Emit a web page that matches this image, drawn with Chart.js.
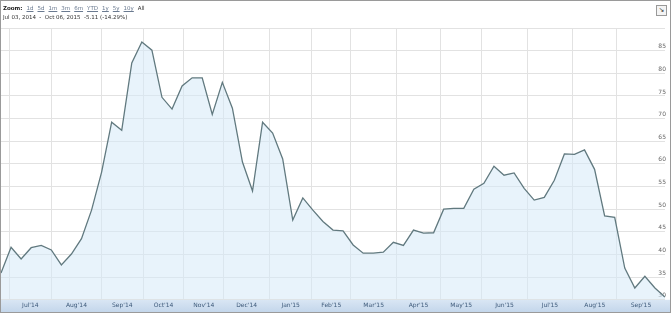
<!DOCTYPE html>
<html>
<head>
<meta charset="utf-8">
<script src="https://cdn.jsdelivr.net/npm/chart.js@4/dist/chart.umd.min.js"></script>
<style>
    body { margin: 0; background: #fff; }
    #wrap { position: relative; width: 671px; height: 313px; overflow: hidden; }
    #kop { position: absolute; left: 3px; top: 4px; font-family: "DejaVu Sans", sans-serif; font-size: 5.5px; color: #333; line-height: 9px; }
    #kop b { color: #222; margin-right: 4px; }
    #kop u { color: #6a7a90; margin-right: 4px; }
    #icoon { position: absolute; left: 656px; top: 5px; width: 9px; height: 9px; border: 1px solid #999; font: 7px "DejaVu Sans", sans-serif; line-height: 9px; text-align: center; color: #333; background: #f4f4f4; }
</style>
</head>
<body>
<div id="wrap">
    <canvas id="koersGrafiek" width="671" height="313"></canvas>
    <div id="kop">
        <div><b>Zoom:</b><u>1d</u><u>5d</u><u>1m</u><u>3m</u><u>6m</u><u>YTD</u><u>1y</u><u>5y</u><u>10y</u>All</div>
        <div>Jul 03, 2014 &nbsp;- &nbsp;Oct 06, 2015 &nbsp;-5.11 (-14.29%)</div>
    </div>
    <div id="icoon">↘</div>
</div>
<script>
// weekly closing prices, Jul 2014 - Oct 2015
const koersen = [
    35.9, 41.6, 39.0, 41.5, 42.0, 41.0, 37.7, 40.1, 43.5, 49.8,
    58.2, 69.2, 67.4, 82.3, 86.9, 85.1, 74.7, 72.1, 77.2, 79.0,
    79.0, 70.9, 78.0, 72.3, 60.4, 54.0, 69.2, 66.8, 61.1, 47.6,
    52.5, 49.8, 47.3, 45.4, 45.2, 42.1, 40.3, 40.3, 40.5, 42.7,
    42.0, 45.4, 44.7, 44.8, 50.0, 50.2, 50.2, 54.4, 55.7, 59.5,
    57.5, 58.0, 54.6, 52.0, 52.6, 56.4, 62.2, 62.1, 63.1, 58.8,
    48.5, 48.2, 37.0, 32.6, 35.2, 32.6, 30.6
];

// month boundaries in week units, as placed on the axis
const maandGrenzen = [0.82, 5.02, 9.98, 14.14, 18.17, 22.15, 26.69, 30.89, 34.76, 39.32, 43.68, 47.80, 52.30, 56.82, 61.22];
const maandLabels = ["Jul'14", "Aug'14", "Sep'14", "Oct'14", "Nov'14", "Dec'14", "Jan'15",
    "Feb'15", "Mar'15", "Apr'15", "May'15", "Jun'15", "Jul'15", "Aug'15", "Sep'15"];

const laatsteWeek = koersen.length - 1;

const labelPerPositie = new Map();
maandLabels.forEach((l, i) => {
    const eind = i + 1 < maandGrenzen.length ? maandGrenzen[i + 1] : laatsteWeek;
    labelPerPositie.set(+((maandGrenzen[i] + eind) / 2).toFixed(3), l);
});

const achtergrond = {
    id: "achtergrond",
    beforeDraw(chart) {
        const { ctx, chartArea, width, height } = chart;
        ctx.save();
        const g = ctx.createLinearGradient(0, chartArea.bottom, 0, height);
        g.addColorStop(0, "#d9e6f4");
        g.addColorStop(1, "#c2d5ea");
        ctx.fillStyle = g;
        ctx.fillRect(0, chartArea.bottom, width, height - chartArea.bottom);
        ctx.restore();
    },
    afterDraw(chart) {
        const { ctx, width, height } = chart;
        ctx.save();
        ctx.strokeStyle = "#9a9a9a";
        ctx.lineWidth = 1;
        ctx.strokeRect(0.5, 0.5, width - 1, height - 1);
        ctx.restore();
    }
};

new Chart(document.getElementById("koersGrafiek"), {
    type: "line",
    data: {
        datasets: [{
            data: koersen.map((k, i) => ({ x: i, y: k })),
            borderColor: "#61797f",
            borderWidth: 1.3,
            backgroundColor: "rgba(214, 234, 248, 0.55)",
            fill: "start",
            tension: 0,
            pointRadius: 0,
        }]
    },
    options: {
        responsive: false,
        animation: false,
        devicePixelRatio: 1,
        layout: { padding: { top: 28, left: 1, right: 4, bottom: 2 } },
        plugins: {
            legend: { display: false },
            tooltip: { enabled: false },
        },
        scales: {
            x: {
                type: "linear",
                min: 0,
                max: laatsteWeek,
                afterBuildTicks: (as) => {
                    const t = maandGrenzen.map(v => ({ value: v }));
                    labelPerPositie.forEach((l, v) => t.push({ value: v }));
                    t.sort((a, b) => a.value - b.value);
                    as.ticks = t;
                },
                grid: {
                    color: (c) => c.tick && labelPerPositie.has(+c.tick.value.toFixed(3)) ? "rgba(0,0,0,0)" : "#e2e2e2",
                    drawTicks: false,
                },
                border: { display: false },
                ticks: {
                    autoSkip: false,
                    maxRotation: 0,
                    padding: 2,
                    color: "#3e5a7a",
                    font: { family: "DejaVu Sans", size: 6 },
                    callback: (v) => labelPerPositie.get(+Number(v).toFixed(3)) || "",
                },
            },
            y: {
                position: "right",
                min: 30,
                max: 90,
                grid: { color: "#e2e2e2", drawTicks: false },
                border: { display: false },
                ticks: {
                    stepSize: 5,
                    mirror: true,
                    padding: 1,
                    labelOffset: -4,
                    color: "#666",
                    font: { family: "DejaVu Sans", size: 6 },
                    callback: (v) => v === 90 ? "" : v,
                },
            },
        },
    },
    plugins: [achtergrond],
});
</script>
</body>
</html>
